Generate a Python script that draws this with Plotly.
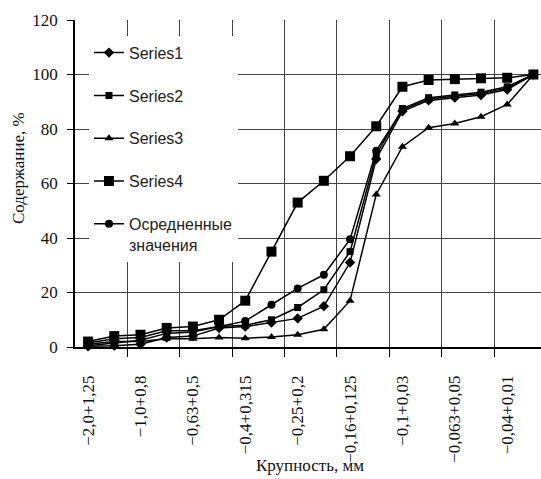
import plotly.graph_objects as go

# 18 size classes (only every second one labelled on the axis)
category_index = list(range(18))
tick_positions = [0, 2, 4, 6, 8, 10, 12, 14, 16]
tick_labels = ["−2,0+1,25", "−1,0+0,8", "−0,63+0,5", "−0,4+0,315", "−0,25+0,2",
               "−0,16+0,125", "−0,1+0,03", "−0,063+0,05", "−0,04+0,01"]
boundary_positions = [1.5, 3.5, 5.5, 7.5, 9.5, 11.5, 13.5, 15.5]

series1 = [0.3, 0.5, 1, 3.5, 4, 7, 7.5, 9, 10.5, 15, 31, 69, 86.5, 90.5, 91.5, 92.5, 94.5, 100]
series2 = [1.5, 3, 3.5, 6, 6, 7.5, 8, 10, 14.5, 21, 35, 70.5, 87.5, 91.5, 92.5, 93.5, 95.5, 100]
series3 = [1, 2, 2, 3, 3, 3.5, 3.2, 3.7, 4.5, 6.5, 17, 56, 73.5, 80.5, 82, 84.5, 89, 100]
series4 = [2, 4, 4.5, 7, 7.5, 10, 17, 35, 53, 61, 70, 81, 95.5, 98, 98.3, 98.6, 98.8, 100]
average = [0.5, 1.5, 2.5, 5, 5.5, 7.5, 9.5, 15.5, 21.5, 26.5, 39.5, 72, 87, 91, 92, 93, 95, 100]

series = [
    ("Series1", series1, "diamond", 8),
    ("Series2", series2, "square", 7),
    ("Series3", series3, "triangle-up", 8),
    ("Series4", series4, "square", 10),
    ("Осредненные<br>значения", average, "circle", 8),
]

fig = go.Figure()
for i, (name, vals, sym, size) in enumerate(series):
    fig.add_trace(go.Scatter(
        x=category_index, y=vals, name=name, mode="lines+markers",
        legendgroup=f"g{i}", cliponaxis=False,
        line=dict(color="black", width=1.5),
        marker=dict(symbol=sym, size=size, color="black"),
    ))

serif = "Liberation Serif"
fig.update_layout(
    width=541, height=479,
    margin=dict(l=75, r=0, t=20, b=132),
    paper_bgcolor="white", plot_bgcolor="white",
    showlegend=True,
    legend=dict(x=0.03, y=0.952, xanchor="left", yanchor="top",
                bgcolor="white", font=dict(family="Liberation Sans", size=16, color="#222"),
                tracegroupgap=19, valign="top"),
    xaxis=dict(range=[-0.5, 17.29], tickmode="array", tickvals=tick_positions,
               ticktext=tick_labels, tickangle=-90, ticks="", showgrid=False,
               showline=True, linecolor="black", linewidth=1.5, zeroline=False,
               ticklabelstandoff=20, automargin=False,
               tickfont=dict(family=serif, size=17, color="#111"),
               minor=dict(tickmode="array", tickvals=boundary_positions, ticks="outside",
                          ticklen=8, tickcolor="black", tickwidth=1.2,
                          showgrid=True, gridcolor="#444", gridwidth=1.3)),
    yaxis=dict(range=[0, 120], tickvals=[0, 20, 40, 60, 80, 100, 120], ticks="outside",
               ticklen=6, tickcolor="black", showline=True, linecolor="black",
               linewidth=1.5, showgrid=True, gridcolor="#444", gridwidth=1.3,
               zeroline=False, automargin=False, ticklabelstandoff=6,
               tickfont=dict(family=serif, size=17, color="#111")),
    annotations=[
        dict(text="Содержание, %", x=(18 - 75) / 466, y=(347 - 168) / 327,
             xref="paper", yref="paper", xanchor="center", yanchor="middle",
             showarrow=False, textangle=-90, font=dict(family=serif, size=17, color="#111")),
        dict(text="Крупность, мм", x=(310 - 75) / 466, y=(347 - 465) / 327,
             xref="paper", yref="paper", xanchor="center", yanchor="middle",
             showarrow=False, font=dict(family=serif, size=17, color="#111")),
    ],
)

fig.write_html("out.html", config={"displayModeBar": False},
               post_script="document.body.style.margin='0';")
